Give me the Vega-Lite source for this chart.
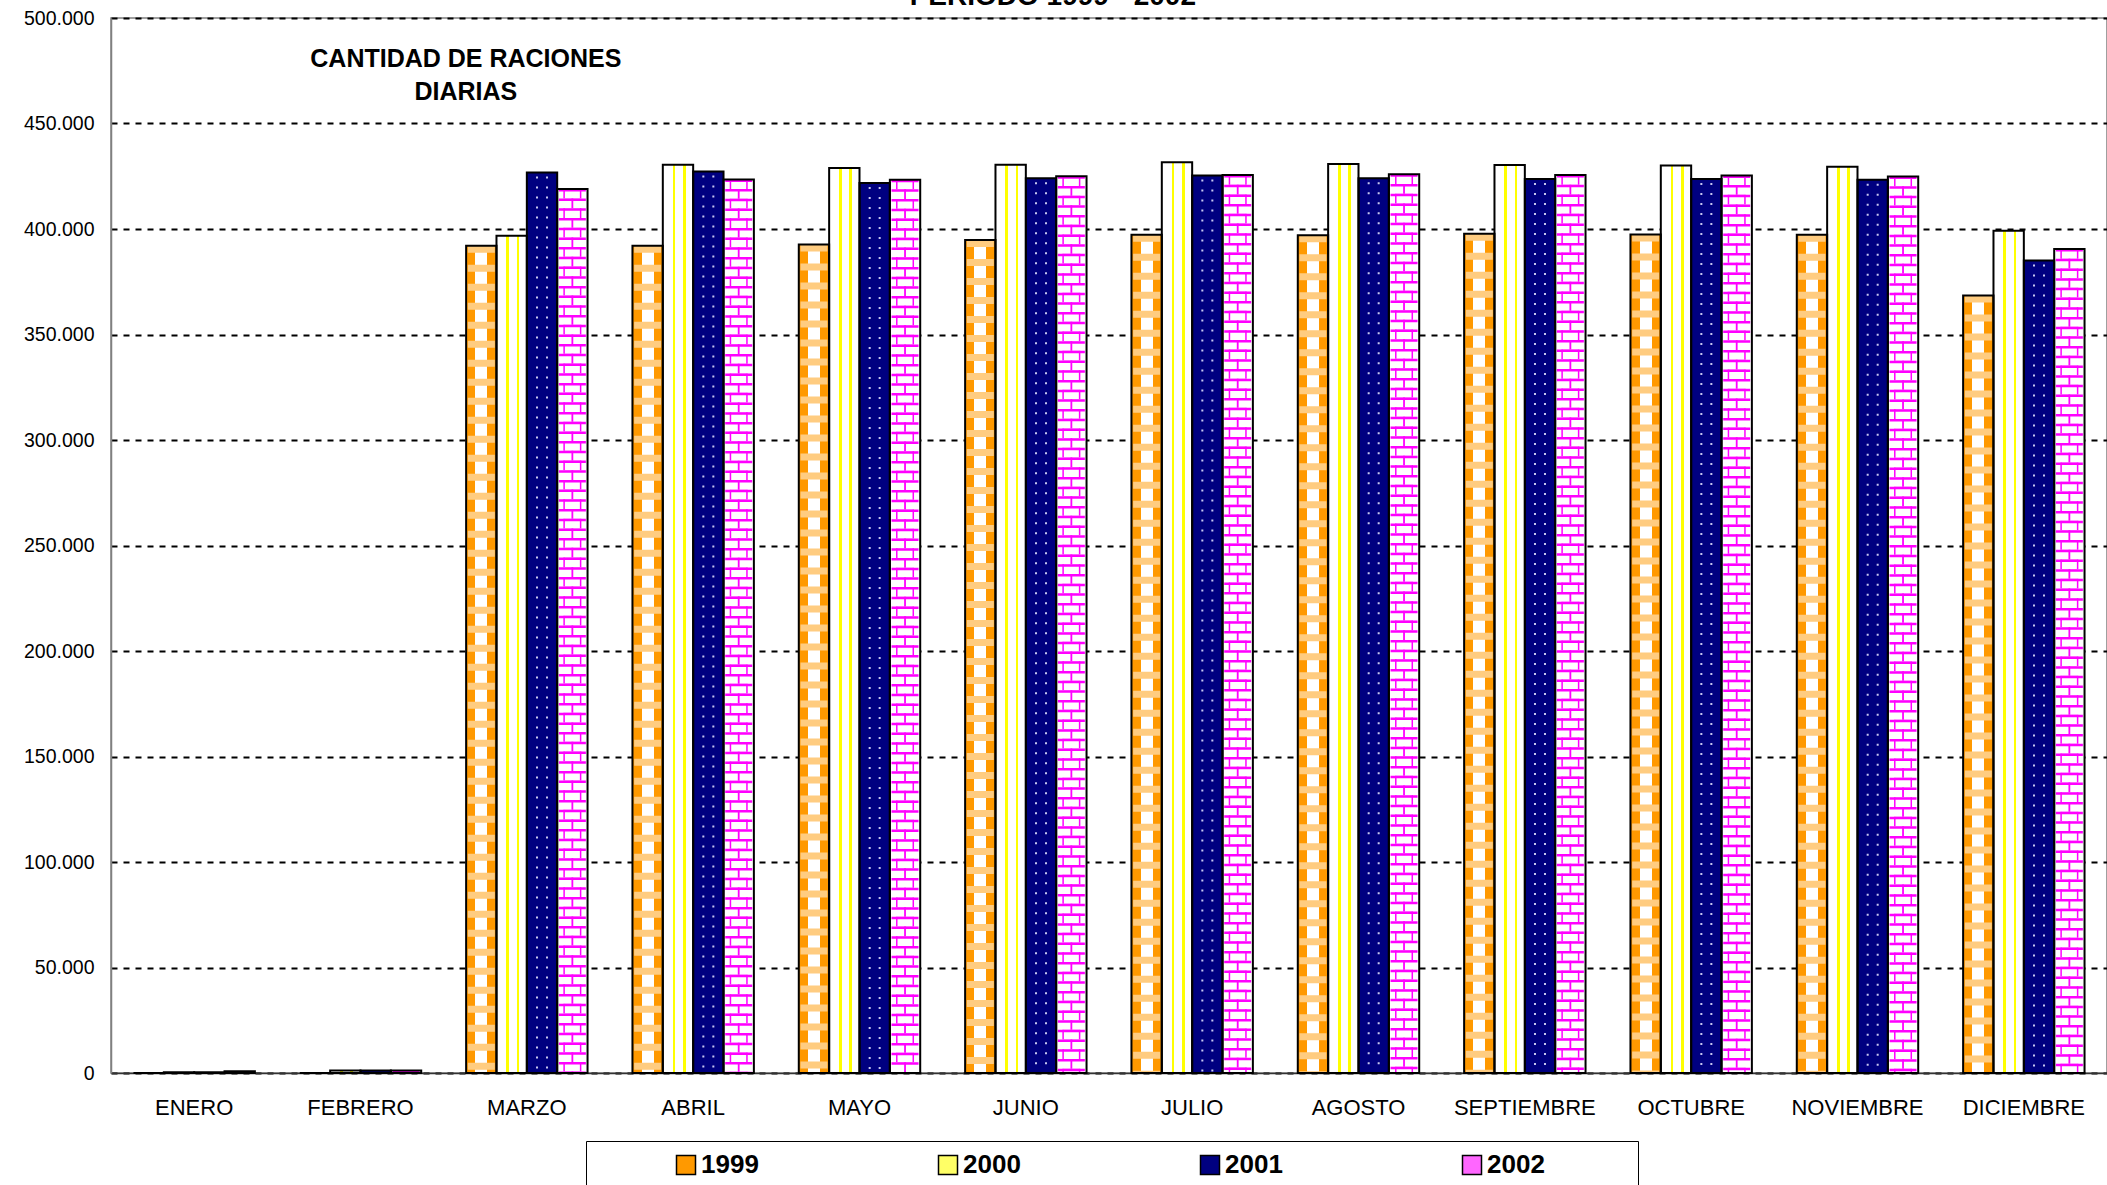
{
  "$schema": "https://vega.github.io/schema/vega-lite/v6.json",
  "width": 1996,
  "height": 1055,
  "autosize": {"type": "none"},
  "padding": {"left": 111, "top": 18, "right": 0, "bottom": 112},
  "background": "white",
  "config": {
    "font": "Liberation Sans",
    "view": {"stroke": "#808080", "strokeWidth": 1.5}
  },
  "data": {"values": [
    {"mes": "ENERO", "anio": "1999", "raciones": 0},
    {"mes": "ENERO", "anio": "2000", "raciones": 400},
    {"mes": "ENERO", "anio": "2001", "raciones": 400},
    {"mes": "ENERO", "anio": "2002", "raciones": 800},
    {"mes": "FEBRERO", "anio": "1999", "raciones": 0},
    {"mes": "FEBRERO", "anio": "2000", "raciones": 1200},
    {"mes": "FEBRERO", "anio": "2001", "raciones": 1200},
    {"mes": "FEBRERO", "anio": "2002", "raciones": 1200},
    {"mes": "MARZO", "anio": "1999", "raciones": 392100},
    {"mes": "MARZO", "anio": "2000", "raciones": 396800},
    {"mes": "MARZO", "anio": "2001", "raciones": 426800},
    {"mes": "MARZO", "anio": "2002", "raciones": 419000},
    {"mes": "ABRIL", "anio": "1999", "raciones": 392100},
    {"mes": "ABRIL", "anio": "2000", "raciones": 430500},
    {"mes": "ABRIL", "anio": "2001", "raciones": 427300},
    {"mes": "ABRIL", "anio": "2002", "raciones": 423500},
    {"mes": "MAYO", "anio": "1999", "raciones": 392700},
    {"mes": "MAYO", "anio": "2000", "raciones": 428900},
    {"mes": "MAYO", "anio": "2001", "raciones": 421800},
    {"mes": "MAYO", "anio": "2002", "raciones": 423400},
    {"mes": "JUNIO", "anio": "1999", "raciones": 394800},
    {"mes": "JUNIO", "anio": "2000", "raciones": 430500},
    {"mes": "JUNIO", "anio": "2001", "raciones": 424000},
    {"mes": "JUNIO", "anio": "2002", "raciones": 425000},
    {"mes": "JULIO", "anio": "1999", "raciones": 397300},
    {"mes": "JULIO", "anio": "2000", "raciones": 431600},
    {"mes": "JULIO", "anio": "2001", "raciones": 425300},
    {"mes": "JULIO", "anio": "2002", "raciones": 425600},
    {"mes": "AGOSTO", "anio": "1999", "raciones": 397000},
    {"mes": "AGOSTO", "anio": "2000", "raciones": 430800},
    {"mes": "AGOSTO", "anio": "2001", "raciones": 424000},
    {"mes": "AGOSTO", "anio": "2002", "raciones": 425900},
    {"mes": "SEPTIEMBRE", "anio": "1999", "raciones": 397800},
    {"mes": "SEPTIEMBRE", "anio": "2000", "raciones": 430300},
    {"mes": "SEPTIEMBRE", "anio": "2001", "raciones": 423700},
    {"mes": "SEPTIEMBRE", "anio": "2002", "raciones": 425600},
    {"mes": "OCTUBRE", "anio": "1999", "raciones": 397400},
    {"mes": "OCTUBRE", "anio": "2000", "raciones": 430100},
    {"mes": "OCTUBRE", "anio": "2001", "raciones": 423700},
    {"mes": "OCTUBRE", "anio": "2002", "raciones": 425400},
    {"mes": "NOVIEMBRE", "anio": "1999", "raciones": 397300},
    {"mes": "NOVIEMBRE", "anio": "2000", "raciones": 429500},
    {"mes": "NOVIEMBRE", "anio": "2001", "raciones": 423400},
    {"mes": "NOVIEMBRE", "anio": "2002", "raciones": 424900},
    {"mes": "DICIEMBRE", "anio": "1999", "raciones": 368500},
    {"mes": "DICIEMBRE", "anio": "2000", "raciones": 399200},
    {"mes": "DICIEMBRE", "anio": "2001", "raciones": 385100},
    {"mes": "DICIEMBRE", "anio": "2002", "raciones": 390500}
  ]},
  "layer": [
    {
      "mark": {"type": "bar", "strokeWidth": 0},
      "encoding": {
        "x": {"field": "mes", "type": "nominal", "sort": ["ENERO","FEBRERO","MARZO","ABRIL","MAYO","JUNIO","JULIO","AGOSTO","SEPTIEMBRE","OCTUBRE","NOVIEMBRE","DICIEMBRE"], "scale": {"paddingInner": 0.27, "paddingOuter": 0.135},
          "axis": {"title": null, "labelAngle": 0, "labelFontSize": 22, "labelColor": "black", "labelPadding": 24, "ticks": false, "domainColor": "#333333", "domainWidth": 1.5, "grid": false}},
        "xOffset": {"field": "anio", "type": "nominal", "sort": ["1999","2000","2001","2002"]},
        "y": {"field": "raciones", "type": "quantitative", "scale": {"domain": [0, 500000], "nice": false},
          "axis": {"title": null, "values": [0,50000,100000,150000,200000,250000,300000,350000,400000,450000,500000], "labelExpr": "replace(format(datum.value, ','), ',', '.')", "labelFontSize": 19.5, "labelColor": "black", "labelPadding": 17, "ticks": false, "domainColor": "#808080", "domainWidth": 1.5, "grid": true, "gridColor": "black", "gridWidth": 2, "gridDash": [6, 6]}},
        "fill": {"field": "anio", "type": "nominal",
          "scale": {"domain": ["1999","2000","2001","2002"], "range": ["#FF9900", "#FFFF66", "#000080", "#FF66FF"]},
          "legend": {
            "orient": "none", "legendX": 475, "legendY": 1123, "direction": "horizontal", "columns": 4,
            "title": "\u00a0", "titleOrient": "right", "titlePadding": 82, "titleFontSize": 26,
            "labelFontSize": 26, "labelFontWeight": "bold", "labelColor": "black",
            "symbolType": "square", "symbolSize": 361, "symbolStrokeColor": "black", "symbolStrokeWidth": 1.5, "symbolOpacity": 1,
            "symbolOffset": 76, "labelOffset": 2, "columnPadding": 100,
            "padding": 11, "strokeColor": "black"
          }
        }
      }
    },
    {
      "transform": [{"filter": "datum.anio == '1999'"}],
      "mark": {"type": "bar", "strokeWidth": 0, "fill": {"gradient": "linear", "x1": 0, "y1": 0, "x2": 1, "y2": 0, "stops": [
              {"offset": 0, "color": "#FF9900"}, {"offset": 0.3, "color": "#FF9900"},
              {"offset": 0.3, "color": "#FFFFFF"}, {"offset": 0.7, "color": "#FFFFFF"},
              {"offset": 0.7, "color": "#FF9900"}, {"offset": 1, "color": "#FF9900"}]}},
      "encoding": {
        "x": {"field": "mes", "type": "nominal", "sort": ["ENERO","FEBRERO","MARZO","ABRIL","MAYO","JUNIO","JULIO","AGOSTO","SEPTIEMBRE","OCTUBRE","NOVIEMBRE","DICIEMBRE"]},
        "xOffset": {"field": "anio", "type": "nominal", "sort": ["1999","2000","2001","2002"]},
        "y": {"field": "raciones", "type": "quantitative"}
      }
    },
    {
      "transform": [{"filter": "datum.anio == '2000'"}],
      "mark": {"type": "bar", "strokeWidth": 0, "fill": {"gradient": "linear", "x1": 0, "y1": 0, "x2": 1, "y2": 0, "stops": [
              {"offset": 0, "color": "#FFFFFF"}, {"offset": 0.33, "color": "#FFFFFF"},
              {"offset": 0.33, "color": "#FFFF00"}, {"offset": 0.41, "color": "#FFFF00"},
              {"offset": 0.41, "color": "#FFFFFF"}, {"offset": 0.67, "color": "#FFFFFF"},
              {"offset": 0.67, "color": "#FFFF00"}, {"offset": 0.75, "color": "#FFFF00"},
              {"offset": 0.75, "color": "#FFFFFF"}, {"offset": 1, "color": "#FFFFFF"}]}},
      "encoding": {
        "x": {"field": "mes", "type": "nominal", "sort": ["ENERO","FEBRERO","MARZO","ABRIL","MAYO","JUNIO","JULIO","AGOSTO","SEPTIEMBRE","OCTUBRE","NOVIEMBRE","DICIEMBRE"]},
        "xOffset": {"field": "anio", "type": "nominal", "sort": ["1999","2000","2001","2002"]},
        "y": {"field": "raciones", "type": "quantitative"}
      }
    },
    {
      "transform": [{"filter": "datum.anio == '2002'"}],
      "mark": {"type": "bar", "strokeWidth": 0, "fill": "#FFFFFF"},
      "encoding": {
        "x": {"field": "mes", "type": "nominal", "sort": ["ENERO","FEBRERO","MARZO","ABRIL","MAYO","JUNIO","JULIO","AGOSTO","SEPTIEMBRE","OCTUBRE","NOVIEMBRE","DICIEMBRE"]},
        "xOffset": {"field": "anio", "type": "nominal", "sort": ["1999","2000","2001","2002"]},
        "y": {"field": "raciones", "type": "quantitative"}
      }
    },
    {
      "transform": [{"filter": "datum.anio == '1999'"}],
      "mark": {"type": "rule", "stroke": "#FFCC80", "strokeWidth": 27, "strokeDash": [7, 12]},
      "encoding": {
        "x": {"field": "mes", "type": "nominal", "sort": ["ENERO","FEBRERO","MARZO","ABRIL","MAYO","JUNIO","JULIO","AGOSTO","SEPTIEMBRE","OCTUBRE","NOVIEMBRE","DICIEMBRE"]},
        "xOffset": {"field": "anio", "type": "nominal", "sort": ["1999","2000","2001","2002"]},
        "y": {"field": "raciones", "type": "quantitative"},
        "y2": {"datum": 0}
      }
    },
    {
      "transform": [{"filter": "datum.anio == '2001'"}],
      "mark": {"type": "rule", "stroke": "#C8C8F0", "strokeWidth": 12, "strokeDash": [2, 8], "strokeDashOffset": -4},
      "encoding": {
        "x": {"field": "mes", "type": "nominal", "sort": ["ENERO","FEBRERO","MARZO","ABRIL","MAYO","JUNIO","JULIO","AGOSTO","SEPTIEMBRE","OCTUBRE","NOVIEMBRE","DICIEMBRE"]},
        "xOffset": {"field": "anio", "type": "nominal", "sort": ["1999","2000","2001","2002"]},
        "y": {"field": "raciones", "type": "quantitative"},
        "y2": {"datum": 0}
      }
    },
    {
      "transform": [{"filter": "datum.anio == '2001'"}],
      "mark": {"type": "rule", "stroke": "#000080", "strokeWidth": 8},
      "encoding": {
        "x": {"field": "mes", "type": "nominal", "sort": ["ENERO","FEBRERO","MARZO","ABRIL","MAYO","JUNIO","JULIO","AGOSTO","SEPTIEMBRE","OCTUBRE","NOVIEMBRE","DICIEMBRE"]},
        "xOffset": {"field": "anio", "type": "nominal", "sort": ["1999","2000","2001","2002"]},
        "y": {"field": "raciones", "type": "quantitative"},
        "y2": {"datum": 0}
      }
    },
    {
      "transform": [{"filter": "datum.anio == '2002'"}],
      "mark": {"type": "rule", "stroke": "#FF00FF", "strokeWidth": 18, "strokeDash": [9.7, 9.7]},
      "encoding": {
        "x": {"field": "mes", "type": "nominal", "sort": ["ENERO","FEBRERO","MARZO","ABRIL","MAYO","JUNIO","JULIO","AGOSTO","SEPTIEMBRE","OCTUBRE","NOVIEMBRE","DICIEMBRE"]},
        "xOffset": {"field": "anio", "type": "nominal", "sort": ["1999","2000","2001","2002"]},
        "y": {"field": "raciones", "type": "quantitative"},
        "y2": {"datum": 0}
      }
    },
    {
      "transform": [{"filter": "datum.anio == '2002'"}],
      "mark": {"type": "rule", "stroke": "#FFFFFF", "strokeWidth": 15, "strokeDash": [9.7, 9.7]},
      "encoding": {
        "x": {"field": "mes", "type": "nominal", "sort": ["ENERO","FEBRERO","MARZO","ABRIL","MAYO","JUNIO","JULIO","AGOSTO","SEPTIEMBRE","OCTUBRE","NOVIEMBRE","DICIEMBRE"]},
        "xOffset": {"field": "anio", "type": "nominal", "sort": ["1999","2000","2001","2002"]},
        "y": {"field": "raciones", "type": "quantitative"},
        "y2": {"datum": 0}
      }
    },
    {
      "transform": [{"filter": "datum.anio == '2002'"}],
      "mark": {"type": "rule", "stroke": "#FF00FF", "strokeWidth": 1.8, "strokeDash": [9.7, 9.7], "strokeDashOffset": 9.7},
      "encoding": {
        "x": {"field": "mes", "type": "nominal", "sort": ["ENERO","FEBRERO","MARZO","ABRIL","MAYO","JUNIO","JULIO","AGOSTO","SEPTIEMBRE","OCTUBRE","NOVIEMBRE","DICIEMBRE"]},
        "xOffset": {"field": "anio", "type": "nominal", "sort": ["1999","2000","2001","2002"]},
        "y": {"field": "raciones", "type": "quantitative"},
        "y2": {"datum": 0}
      }
    },
    {
      "transform": [{"filter": "datum.anio == '2002'"}],
      "mark": {"type": "rule", "stroke": "#FF00FF", "strokeWidth": 27, "strokeDash": [2.5, 7.2]},
      "encoding": {
        "x": {"field": "mes", "type": "nominal", "sort": ["ENERO","FEBRERO","MARZO","ABRIL","MAYO","JUNIO","JULIO","AGOSTO","SEPTIEMBRE","OCTUBRE","NOVIEMBRE","DICIEMBRE"]},
        "xOffset": {"field": "anio", "type": "nominal", "sort": ["1999","2000","2001","2002"]},
        "y": {"field": "raciones", "type": "quantitative"},
        "y2": {"datum": 0}
      }
    },
    {
      "mark": {"type": "bar", "fillOpacity": 0, "stroke": "black", "strokeWidth": 2},
      "encoding": {
        "x": {"field": "mes", "type": "nominal", "sort": ["ENERO","FEBRERO","MARZO","ABRIL","MAYO","JUNIO","JULIO","AGOSTO","SEPTIEMBRE","OCTUBRE","NOVIEMBRE","DICIEMBRE"]},
        "xOffset": {"field": "anio", "type": "nominal", "sort": ["1999","2000","2001","2002"]},
        "y": {"field": "raciones", "type": "quantitative"}
      }
    },
    {
      "data": {"values": [{"nota": "CANTIDAD DE RACIONES\nDIARIAS"}]},
      "mark": {"type": "text", "fontSize": 25, "fontWeight": "bold", "color": "black", "align": "center", "baseline": "alphabetic", "lineBreak": "\n", "lineHeight": 33, "dx": -61},
      "encoding": {
        "x": {"datum": "MARZO"},
        "y": {"datum": 476800},
        "text": {"field": "nota"}
      }
    },
    {
      "data": {"values": [{"titulo": "PERIODO 1999 - 2002"}]},
      "mark": {"type": "text", "fontSize": 28, "fontWeight": "bold", "color": "black", "align": "center", "baseline": "alphabetic", "dx": 27},
      "encoding": {
        "x": {"datum": "JUNIO"},
        "y": {"datum": 506300},
        "text": {"field": "titulo"}
      }
    }
  ]
}
